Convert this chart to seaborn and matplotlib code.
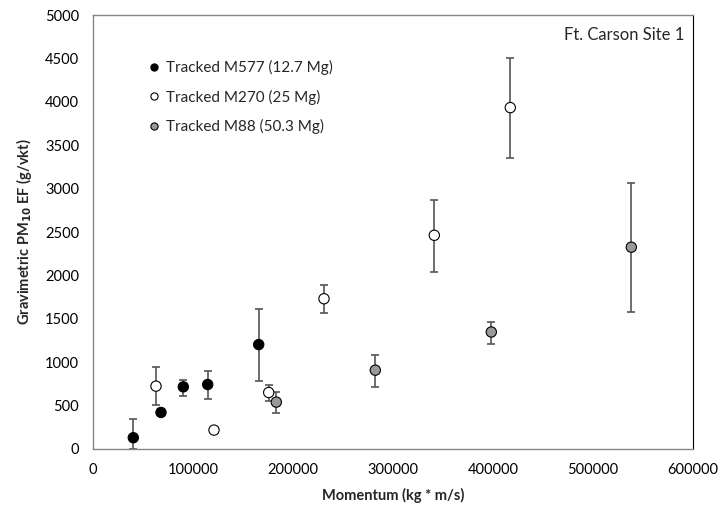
import matplotlib
matplotlib.use("Agg")
import matplotlib.pyplot as plt
import seaborn as sns
import pandas as pd
import numpy as np

# Data
series_names = ["Tracked M577 (12.7 Mg)", "Tracked M270 (25 Mg)", "Tracked M88 (50.3 Mg)"]

m577_x = [40300, 68000, 90300, 114700, 165700]
m577_y = [130, 421, 716, 743, 1203]
m577_lo = [130, 40, 107, 168, 425]
m577_hi = [215, 40, 84, 157, 414]

m270_x = [63000, 121000, 175700, 231000, 341300, 417300]
m270_y = [724, 218, 651, 1731, 2462, 3933]
m270_lo = [222, 0, 96, 160, 428, 581]
m270_hi = [226, 0, 92, 161, 407, 567]

m88_x = [183300, 282300, 398300, 538300]
m88_y = [540, 908, 1348, 2325]
m88_lo = [130, 199, 134, 743]
m88_hi = [111, 180, 115, 739]

face_colors = ["#000000", "#ffffff", "#999999"]

sns.set_theme(style="white")
plt.rcParams["font.family"] = ["Lato", "DejaVu Sans"]

fig = plt.figure(figsize=(7.24, 5.23), dpi=100)
ax = fig.add_axes([93 / 724, 1 - 449 / 523, 600 / 724, 434 / 523])

frames = []
for name, xs, ys in [(series_names[0], m577_x, m577_y),
                     (series_names[1], m270_x, m270_y),
                     (series_names[2], m88_x, m88_y)]:
    frames.append(pd.DataFrame({"x": xs, "y": ys, "series": name}))
df = pd.concat(frames, ignore_index=True)

for xs, ys, lo, hi in [(m577_x, m577_y, m577_lo, m577_hi),
                       (m270_x, m270_y, m270_lo, m270_hi),
                       (m88_x, m88_y, m88_lo, m88_hi)]:
    ax.errorbar(xs, ys, yerr=[lo, hi], fmt="none", ecolor="#555555",
                elinewidth=1.2, capsize=3, capthick=1.2, zorder=2)

sns.scatterplot(data=df, x="x", y="y", hue="series", hue_order=series_names,
                palette=dict(zip(series_names, face_colors)), s=55,
                edgecolor="#000000", linewidth=0.8, ax=ax, zorder=3, legend=True)

ax.set_xlim(0, 600000)
ax.set_ylim(0, 5000)
ax.set_xticks(np.arange(0, 600001, 100000))
ax.set_yticks(np.arange(0, 5001, 500))
ax.set_xticklabels([str(v) for v in range(0, 600001, 100000)])
ax.set_yticklabels([str(v) for v in range(0, 5001, 500)])
ax.tick_params(axis="both", which="major", labelsize=10.5, colors="#000000",
               direction="out", length=4, width=0.8, pad=6)
ax.tick_params(axis="x", color="#868686")
ax.tick_params(axis="y", color="#868686")

for side in ["left", "bottom", "top"]:
    ax.spines[side].set_color("#868686")
    ax.spines[side].set_linewidth(1.0)
ax.spines["right"].set_color("#000000")
ax.spines["right"].set_linewidth(0.8)

ax.set_xlabel("Momentum (kg * m/s)", fontsize=10.5, fontweight="bold", labelpad=8)
ax.set_ylabel("Gravimetric PM$_{\\mathbf{10}}$ EF (g/vkt)", fontsize=10.5,
              fontweight="bold", labelpad=8)

ax.text(0.985, 0.972, "Ft. Carson Site 1", transform=ax.transAxes,
        ha="right", va="top", fontsize=12)

leg = ax.legend(loc="upper left", bbox_to_anchor=(0.078, 0.91), frameon=False,
                fontsize=11, handletextpad=0.3, labelspacing=0.95, markerscale=0.7,
                handlelength=1.0, borderaxespad=0)
for h in leg.legend_handles:
    if hasattr(h, "set_markeredgecolor"):
        h.set_markeredgecolor("#000000")
    elif hasattr(h, "set_edgecolor"):
        h.set_edgecolor("#000000")

fig.savefig("out.png", dpi=100)
